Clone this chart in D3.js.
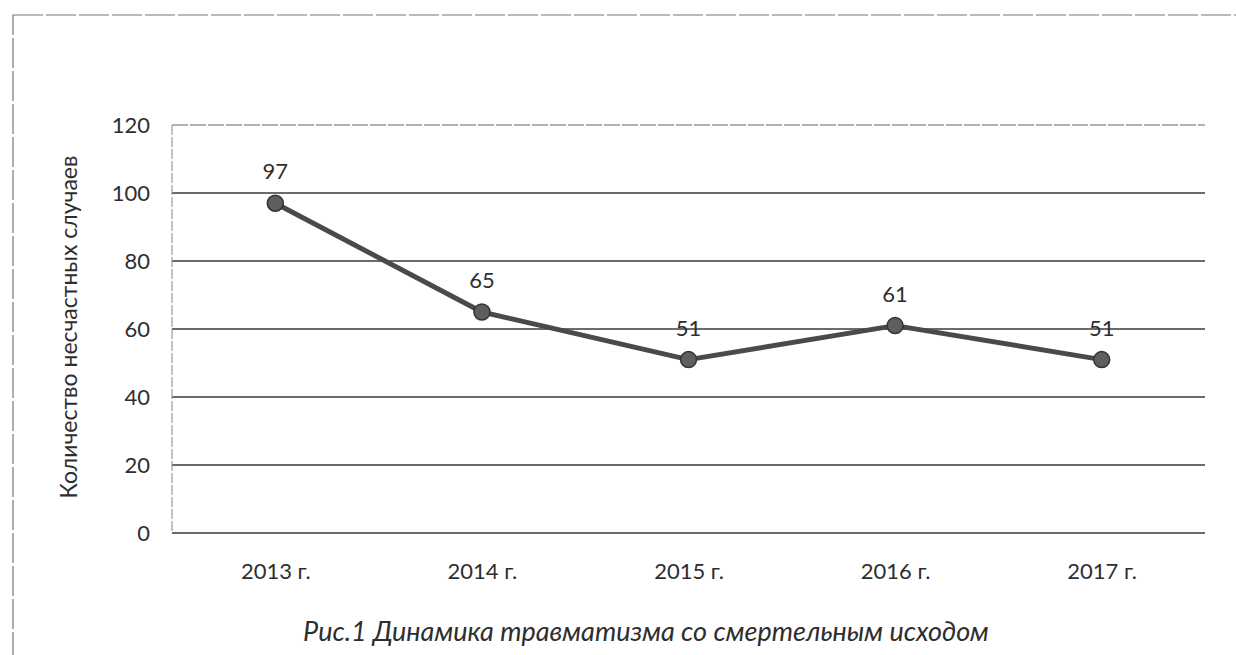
<!DOCTYPE html>
<html>
<head>
<meta charset="utf-8">
<script src="https://cdn.jsdelivr.net/npm/d3@7"></script>
<style>
  body { margin: 0; background: #fff; }
  svg { display: block; font-family: Lato, "Open Sans", sans-serif; }
</style>
</head>
<body>
<div id="chart"></div>
<script>
// Chart data
const years = ["2013 г.", "2014 г.", "2015 г.", "2016 г.", "2017 г."];
const cases = [97, 65, 51, 61, 51];
const yTicks = [0, 20, 40, 60, 80, 100, 120];
const yTitle = "Количество несчастных случаев";
const caption = "Рис.1 Динамика травматизма со смертельным исходом";

const width = 1236, height = 655;
const plot = { left: 172, right: 1205, top: 125, bottom: 533 };
const textColor = "#2e2e2e";

const svg = d3.select("#chart")
  .append("svg")
  .attr("width", width)
  .attr("height", height);

// Outer frame of the scanned figure
svg.append("rect")
  .attr("x", 13).attr("y", 15)
  .attr("width", width).attr("height", height)
  .attr("fill", "none")
  .attr("stroke", "#777")
  .attr("stroke-width", 1.2)
  .attr("stroke-dasharray", "30 3");

const x = d3.scalePoint()
  .domain(years)
  .range([plot.left, plot.right])
  .padding(0.5);

const y = d3.scaleLinear()
  .domain([0, 120])
  .range([plot.bottom, plot.top]);

// Gridlines
svg.append("g")
  .attr("class", "grid")
  .selectAll("line")
  .data(yTicks)
  .join("line")
  .attr("x1", plot.left)
  .attr("x2", plot.right)
  .attr("y1", d => y(d))
  .attr("y2", d => y(d))
  .attr("stroke", d => d === 120 ? "#666" : "#3a3a3a")
  .attr("stroke-width", d => d === 120 ? 1.1 : 1.4)
  .attr("stroke-dasharray", d => d === 120 ? "16 2" : null);

// Y axis line
svg.append("line")
  .attr("x1", plot.left).attr("x2", plot.left)
  .attr("y1", plot.top).attr("y2", plot.bottom)
  .attr("stroke", "#888")
  .attr("stroke-width", 1)
  .attr("stroke-dasharray", "10 2");

// Y axis (ticks as labels only)
const yAxis = svg.append("g")
  .attr("transform", `translate(${plot.left},0)`)
  .call(d3.axisLeft(y).tickValues(yTicks).tickSize(0).tickPadding(22));
yAxis.select(".domain").remove();
yAxis.selectAll("text")
  .attr("font-size", 22)
  .attr("fill", textColor)
  .attr("font-family", "Lato, 'Open Sans', sans-serif");

// X axis labels
const xAxis = svg.append("g")
  .attr("transform", `translate(0,${plot.bottom})`)
  .call(d3.axisBottom(x).tickSize(0).tickPadding(30));
xAxis.select(".domain").remove();
xAxis.selectAll("text")
  .attr("font-size", 22)
  .attr("fill", textColor)
  .attr("font-family", "Lato, 'Open Sans', sans-serif");

// Y axis title
svg.append("text")
  .attr("transform", `translate(77,${(plot.top + plot.bottom) / 2 - 2}) rotate(-90)`)
  .attr("text-anchor", "middle")
  .attr("font-size", 23)
  .attr("fill", textColor)
  .text(yTitle);

// Line
const line = d3.line()
  .x((d, i) => x(years[i]))
  .y(d => y(d));

svg.append("path")
  .datum(cases)
  .attr("d", line)
  .attr("fill", "none")
  .attr("stroke", "#4a4a4a")
  .attr("stroke-width", 5)
  .attr("stroke-linejoin", "round");

// Markers
svg.append("g")
  .selectAll("circle")
  .data(cases)
  .join("circle")
  .attr("cx", (d, i) => x(years[i]))
  .attr("cy", d => y(d))
  .attr("r", 8)
  .attr("fill", "#5e5e5e")
  .attr("stroke", "#333")
  .attr("stroke-width", 1.5);

// Data labels
svg.append("g")
  .selectAll("text")
  .data(cases)
  .join("text")
  .attr("x", (d, i) => x(years[i]))
  .attr("y", d => y(d) - 24)
  .attr("text-anchor", "middle")
  .attr("font-size", 22)
  .attr("fill", textColor)
  .text(d => d);

// Caption
svg.append("text")
  .attr("x", 646)
  .attr("y", 641)
  .attr("text-anchor", "middle")
  .attr("font-size", 27)
  .attr("font-style", "italic")
  .attr("fill", textColor)
  .text(caption);
</script>
</body>
</html>
